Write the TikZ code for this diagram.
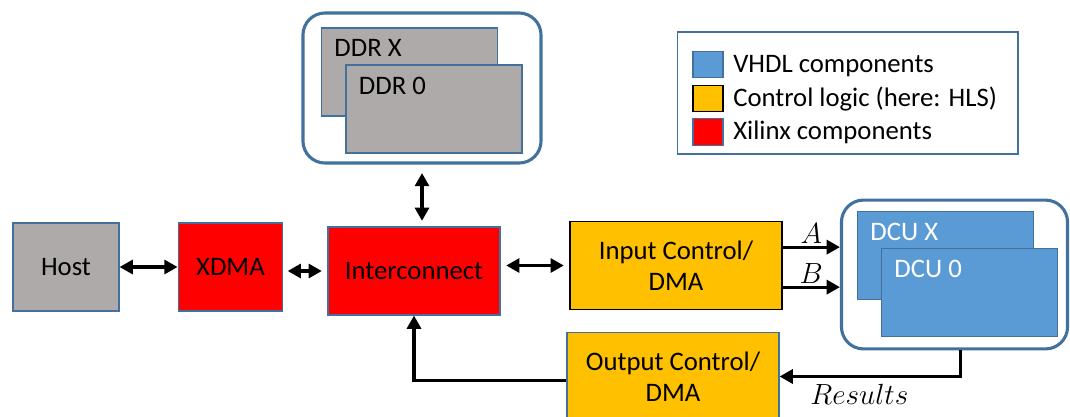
\documentclass[tikz,border=0pt]{standalone}
\usepackage{fontspec}
\setmainfont{Carlito}
\usetikzlibrary{arrows.meta,positioning,calc}
\definecolor{vhdlblue}{HTML}{5B9BD5}
\definecolor{edgeblue}{HTML}{41719C}
\definecolor{hlsgold}{HTML}{FFC000}
\definecolor{xilred}{HTML}{FF0000}
\definecolor{hostgray}{HTML}{AEAAAA}

\begin{document}
\begin{tikzpicture}[x=0.025cm, y=-0.025cm, >={Triangle[length=3.3mm, width=3.5mm]}, font=\fontsize{19}{22}\selectfont,
 block/.style={draw=edgeblue, line width=0.8pt, inner sep=0pt, align=center},
 mem/.style={block, fill=hostgray, minimum width=4.4cm, minimum height=2.2cm},
 unit/.style={block, fill=vhdlblue, minimum width=4.4cm, minimum height=2.22cm},
 ctrl/.style={block, fill=hlsgold, minimum width=5.3cm, minimum height=2.18cm},
 group/.style={draw=edgeblue, line width=2.2pt, rounded corners=5.5mm, inner sep=0pt},
 swatch/.style={draw=edgeblue, line width=0.8pt, minimum width=0.75cm, minimum height=0.67cm, inner sep=0pt},
 link/.style={line width=2.2pt},
 sig/.style={font=\fontsize{22}{26}\selectfont}]
 \useasboundingbox (0, 0) rectangle (1070, 416);

 % memory banks
 \node[group, minimum width=5.95cm, minimum height=3.75cm] (ddr) at (422, 88) {};
 \node[mem, label={[anchor=north west, inner xsep=0.33cm, inner ysep=0.3cm]north west:DDR X}] (ddrx) at (409.5, 72) {};
 \node[mem, label={[anchor=north west, inner xsep=0.33cm, inner ysep=0.3cm]north west:DDR 0}] (ddr0) at (434, 109) {};

 % main data path
 \node[block, fill=hostgray, minimum width=2.65cm, minimum height=2.2cm] (host) at (66, 267) {Host};
 \node[block, fill=xilred, minimum width=2.62cm, minimum height=2.2cm] (xdma) at (230.5, 267) {XDMA};
 \node[block, fill=xilred, minimum width=4.3cm, minimum height=2.2cm] (icon) at (414, 271) {Interconnect};
 \node[ctrl, draw=black] (inctl) at (676, 265.5) {Input Control/\\DMA};
 \node[ctrl] (outctl) at (673, 376.5) {Output Control/\\DMA};

 % compute units
 \node[group, minimum width=5.65cm, minimum height=3.72cm] (dcu) at (954.5, 274.5) {};
 \node[unit, label={[anchor=north west, text=white, inner xsep=0.33cm, inner ysep=0.3cm]north west:DCU X}] (dcux) at (945.5, 255.5) {};
 \node[unit, label={[anchor=north west, text=white, inner xsep=0.33cm, inner ysep=0.3cm]north west:DCU 0}] (dcu0) at (969.5, 292.5) {};

 % legend
 \node[draw=edgeblue, line width=0.8pt, minimum width=8.52cm, minimum height=3.05cm] (legend) at (847.5, 93) {};
 \node[swatch, fill=vhdlblue] (sw1) at (708, 64.5) {};
 \node[swatch, fill=hlsgold, draw=black] (sw2) at (708, 98.5) {};
 \node[swatch, fill=xilred] (sw3) at (708, 132) {};
 \node[anchor=west, inner sep=0pt] (t1) at (733, 66) {VHDL components};
 \node[anchor=west, inner sep=0pt] (t2) at (733, 99) {Control logic (here: HLS)};
 \node[anchor=west, inner sep=0pt] (t3) at (733, 132) {Xilinx components};

 % connections
 \draw[link, <->] (host) -- (xdma);
 \draw[link, <->, shorten <=3pt, shorten >=4pt] (icon.west -| xdma.east) -- (icon.west);
 \draw[link, <->, shorten <=4pt, shorten >=4pt] (icon.east |- inctl) -- (inctl.west);
 \draw[link, <->, shorten <=6pt, shorten >=4pt] (ddr.south) -- (ddr.south |- icon.north);
 \draw[link, ->] ([yshift=0.46cm]inctl.east) -- ([yshift=0.46cm]inctl.east -| dcu.west) node[sig, midway, above=-2pt] {$A$};
 \draw[link, ->] ([yshift=-0.54cm]inctl.east) -- ([yshift=-0.54cm]inctl.east -| dcu.west) node[sig, midway, above=-2pt] {$B$};
 \draw[link, ->] ([xshift=0.16cm]dcu.south) |- (outctl.east) node[sig, pos=0.78, below=1pt] {$Results$};
 \draw[link, ->] ([yshift=-0.09cm]outctl.west) -| (icon.south);
\end{tikzpicture}
\end{document}
